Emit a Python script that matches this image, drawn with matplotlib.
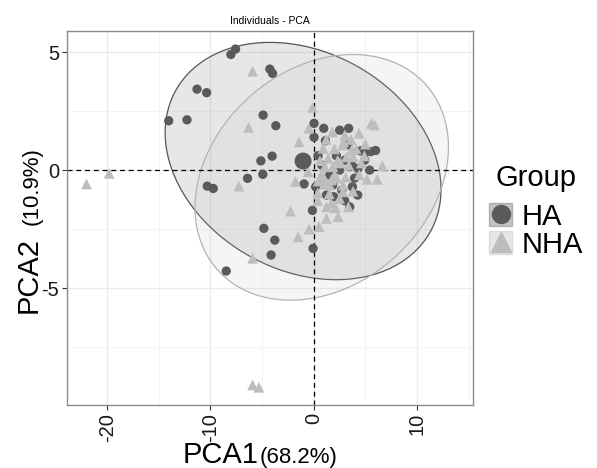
import numpy as np
import matplotlib
matplotlib.use("Agg")
from matplotlib import pyplot as plt
from matplotlib.patches import Polygon, Patch
from matplotlib.lines import Line2D
from matplotlib.ticker import MultipleLocator

plt.rcParams['font.family'] = ['Liberation Sans', 'DejaVu Sans']

# Group HA (circles)
ha_x = [-7.57, -8.02, -4.25, -3.99, -11.30, -10.37, -14.04, -12.27, -4.90, -3.67,
        -5.12, -4.03, -6.41, -4.93, -10.31, -9.73, -0.94, 0.03, 0.97, 0.03,
        1.13, 2.51, 3.38, 0.42, 2.19, 4.54, 5.02, 5.51, 5.99, 4.28,
        0.19, 1.23, 1.93, 3.00, 3.74, -0.13, -4.83, -3.77, -4.13, -0.07,
        -8.47, 3.48, 3.00, 3.67, 2.51, 1.55, 3.96, 4.93, 3.29, 1.84,
        2.71, 0.77, 4.25, 5.41]
ha_y = [5.13, 4.90, 4.28, 4.10, 3.43, 3.28, 2.09, 2.13, 2.33, 1.88,
        0.39, 0.59, -0.35, -0.18, -0.68, -0.78, -0.59, 1.98, 1.77, 1.39,
        1.24, 1.69, 1.77, 0.61, 0.61, 0.81, 0.76, 0.78, 0.83, 0.07,
        -0.71, -1.06, -1.13, -1.30, -0.71, -1.71, -2.47, -2.97, -3.60, -3.32,
        -4.28, -1.56, 0.42, 0.21, 0.00, -0.21, -0.34, 0.42, 1.06, -0.64,
        -0.85, 0.21, -1.06, 0.00]

# Group NHA (triangles)
nha_x = [-22.0, -19.81, -5.92, -0.13, -6.31, -0.48, -1.42, -7.25, -1.77, 1.81,
         3.00, 4.38, 5.57, 5.89, 5.00, 6.64, 5.15, 6.15, 2.83, 0.90,
         3.16, 3.80, 1.06, 1.86, -0.55, 0.90, 2.83, 1.55, -5.92, -5.31,
         -5.92, -2.25, -1.52, -0.45, 0.51, 1.23, 2.35, 1.23, 1.71, 3.35,
         2.83, 0.80, 1.71, 3.67, 2.32, 0.39, 2.22,
         1.4, 2.0, 2.6, 3.4, 4.1, 4.6, 1.0, 2.0, 3.1, 3.8,
         2.5, 1.5, 4.4, 0.6, 2.9, 3.6, 1.2, 2.1, 4.9, 0.4]
nha_y = [-0.59, -0.14, 4.19, 2.66, 1.81, 1.77, 1.20, -0.68, -0.48, 1.62,
         1.48, 1.56, 1.98, 1.91, 1.10, 0.18, -0.39, -0.39, 1.06, 0.92,
         0.56, 0.56, 0.14, 0.14, -0.07, -0.28, -0.64, -0.64, -9.11, -9.21,
         -3.74, -1.74, -2.83, -2.50, -2.40, -2.05, -1.98, -1.56, -1.41, -1.56,
         -0.92, -0.35, -0.42, 0.85, 0.42, -0.97, -0.34,
         0.5, 0.9, 0.3, 0.2, 0.9, 0.3, -0.6, -0.2, -0.3, -0.9,
         -1.2, -1.0, -0.2, 0.4, 1.2, 1.3, 1.3, -1.6, 0.6, -1.3]

groups = ['HA', 'NHA']
point_colors = ['#5a5a5a', '#bdbdbd']
edge_colors = ['#555555', '#b3b3b3']
markers = ['o', '^']


def norm_ellipse(x, y, level=0.95, segments=100):
    # normal data ellipse like ggplot2 stat_ellipse(type = "norm")
    X = np.column_stack([x, y])
    n = len(X)
    loc = X.mean(axis=0)
    cov = np.cov(X.T)
    dfd = n - 1
    f = dfd / 2 * ((1 - level) ** (-2 / dfd) - 1)
    radius = np.sqrt(2 * f)
    t = np.linspace(0, 2 * np.pi, segments)
    circle = np.column_stack([np.cos(t), np.sin(t)])
    chol = np.linalg.cholesky(cov).T
    return loc + radius * circle @ chol


fig = plt.figure(figsize=(5.97, 4.68), dpi=100)
ax = fig.add_axes([0.112, 0.1346, 0.68, 0.7994])

xs = [ha_x, nha_x]
ys = [ha_y, nha_y]

for i in range(2):
    pts = norm_ellipse(np.array(xs[i]), np.array(ys[i]))
    ax.add_patch(Polygon(pts, closed=True, facecolor=point_colors[i], alpha=0.14,
                         edgecolor='none', zorder=2))
    ax.add_patch(Polygon(pts, closed=True, facecolor='none', edgecolor=edge_colors[i],
                         lw=0.9, zorder=2))

for i in range(2):
    ax.scatter(xs[i], ys[i], s=45 if i == 0 else 60, marker=markers[i],
               color=point_colors[i], edgecolors='none', zorder=3)
    ax.scatter([np.mean(xs[i])], [np.mean(ys[i])], s=150 if i == 0 else 170,
               marker=markers[i], color=point_colors[i], edgecolors='none', zorder=4)

ax.axhline(0, color='black', lw=0.9, ls=(0, (4, 3)), zorder=2.5)
ax.axvline(0, color='black', lw=0.9, ls=(0, (4, 3)), zorder=2.5)

ax.set_xlim(-23.9, 15.4)
ax.set_ylim(-9.96, 5.9)
ax.xaxis.set_minor_locator(MultipleLocator(5))
ax.yaxis.set_minor_locator(MultipleLocator(2.5))
ax.grid(which='major', color='#ebebeb', lw=1.0, zorder=0)
ax.grid(which='minor', color='#f2f2f2', lw=0.6, zorder=0)
ax.set_axisbelow(True)
ax.tick_params(which='minor', length=0)
ax.tick_params(which='major', length=3.5, width=0.8, color='#333333',
               labelsize=14.5, labelcolor='#1a1a1a', pad=2)
ax.set_xticks([-20, -10, 0, 10])
ax.set_xticklabels(['-20', '-10', '0', '10'], rotation=90)
ax.set_yticks([-5, 0, 5])
ax.set_yticklabels(['-5', '0', '5'])
for s in ax.spines.values():
    s.set_color('#8c8c8c')
    s.set_linewidth(1.0)

ax.set_title('Individuals - PCA', fontsize=7.5, pad=5)

# axis titles with mixed sizes
fig.text(0.306, 0.01, 'PCA1', fontsize=21, ha='left', va='baseline')
fig.text(0.4355, 0.01, '(68.2%)', fontsize=16, ha='left', va='baseline')
fig.text(0.071, 0.331, 'PCA2', fontsize=21, rotation=90, ha='right', va='bottom')
fig.text(0.071, 0.52, '(10.9%)', fontsize=16, rotation=90, ha='right', va='bottom')

handles = []
for i in range(2):
    box = Patch(facecolor=point_colors[i], alpha=0.35, edgecolor=edge_colors[i], lw=1)
    pt = Line2D([], [], marker=markers[i], color=point_colors[i], ls='none',
                markersize=13 if i == 0 else 14)
    handles.append((box, pt))
leg = fig.legend(handles, groups, title='Group', loc='upper left',
                 bbox_to_anchor=(0.785, 0.694), frameon=False, fontsize=21,
                 title_fontsize=21, handlelength=0.8, handleheight=0.85,
                 labelspacing=0.0, handletextpad=0.3, borderpad=0.2)
leg._legend_box.align = 'center'
leg._legend_box.sep = 8

fig.savefig('out.png', dpi=100)
